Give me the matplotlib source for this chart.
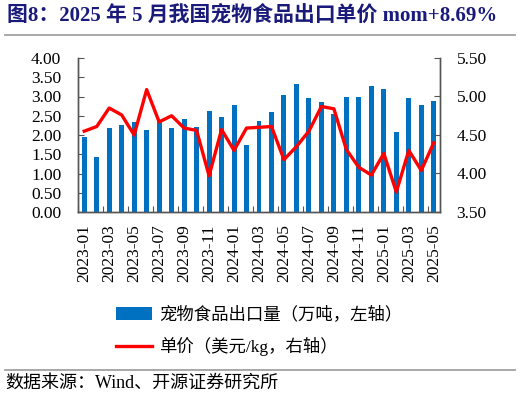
import matplotlib
matplotlib.use("Agg")
import matplotlib.pyplot as plt
import numpy as np

months = ["2023-01","2023-02","2023-03","2023-04","2023-05","2023-06","2023-07","2023-08",
          "2023-09","2023-10","2023-11","2023-12","2024-01","2024-02","2024-03","2024-04",
          "2024-05","2024-06","2024-07","2024-08","2024-09","2024-10","2024-11","2024-12",
          "2025-01","2025-02","2025-03","2025-04","2025-05"]
volume = [1.94, 1.42, 2.19, 2.26, 2.34, 2.12, 2.40, 2.18, 2.42, 2.21, 2.63, 2.48, 2.77, 1.73,
          2.37, 2.61, 3.05, 3.33, 2.96, 2.85, 2.55, 2.99, 3.00, 3.26, 3.19, 2.08, 2.96, 2.77, 2.88]
price = [4.55, 4.61, 4.85, 4.76, 4.50, 5.09, 4.67, 4.75, 4.59, 4.56, 3.97, 4.57, 4.30, 4.59,
         4.60, 4.61, 4.18, 4.35, 4.55, 4.87, 4.84, 4.31, 4.08, 3.98, 4.26, 3.76, 4.30, 4.04, 4.40]
left_ticks = [0.0, 0.5, 1.0, 1.5, 2.0, 2.5, 3.0, 3.5, 4.0]
right_ticks = [3.5, 4.0, 4.5, 5.0, 5.5]

title = "图8：2025 年 5 月我国宠物食品出口单价 mom+8.69%"
bar_label = "宠物食品出口量（万吨，左轴）"
line_label = "单价（美元/kg，右轴）"
source = "数据来源：Wind、开源证券研究所"

fam = ["Liberation Serif", "Noto Sans CJK SC", "DejaVu Sans"]
plt.rcParams["font.family"] = fam

W, H = 520, 396
fig = plt.figure(figsize=(W / 100, H / 100), dpi=100)
ax = fig.add_axes([78 / W, 1 - 212 / H, (440 - 78) / W, (212 - 58) / H])
ax2 = ax.twinx()

x = np.arange(len(months))
bars = ax.bar(x, volume, width=0.4, color="#0070C0", label=bar_label, zorder=2)
ln, = ax2.plot(x, price, color="#FF0000", lw=2.4, label=line_label, zorder=3)

ax.set_xlim(-0.5, len(months) - 0.5)
ax.set_ylim(0, 4)
ax2.set_ylim(3.5, 5.5)
ax.set_yticks(left_ticks)
ax.set_yticklabels([f"{v:.2f}" for v in left_ticks])
ax2.set_yticks(right_ticks)
ax2.set_yticklabels([f"{v:.2f}" for v in right_ticks])

# major ticks at boundaries every 2 months (no labels), labels at bar centers
ax.set_xticks(np.arange(-0.5, len(months), 2))
ax.set_xticklabels([])
ax.set_xticks(x[::2], minor=True)
ax.set_xticklabels(months[::2], minor=True, rotation=90)
ax.tick_params(axis="x", which="major", direction="in", length=4, color="#555555")
ax.tick_params(axis="x", which="minor", length=0, pad=9, labelsize=12.5)
ax.tick_params(axis="y", direction="in", length=4, pad=12, labelsize=12.5, color="#555555")
ax2.tick_params(axis="y", direction="in", length=4, pad=12, labelsize=12.5, color="#555555")

for a in (ax, ax2):
    a.spines["top"].set_visible(False)
    for s in ("left", "right", "bottom"):
        a.spines[s].set_color("#555555")
        a.spines[s].set_linewidth(1.0)

fig.text(7 / W, 1 - 16 / H, title, ha="left", va="center", fontsize=15.0,
         fontweight="bold", color="#1a1a7a", family=fam)
fig.add_artist(plt.Line2D([5 / W, 515 / W], [1 - 35 / H, 1 - 35 / H], color="#999999", lw=1.2))
fig.add_artist(plt.Line2D([5 / W, 515 / W], [1 - 370 / H, 1 - 370 / H], color="#999999", lw=1.2))
fig.text(5 / W, 1 - 383 / H, source, ha="left", va="center", fontsize=13, family=fam)

fig.legend(handles=[bars, ln], loc="upper left", bbox_to_anchor=(100 / W, 1 - 291 / H),
           frameon=False, fontsize=12.5, handlelength=2.1, handleheight=0.7,
           labelspacing=0.8, handletextpad=0.4)

fig.savefig("out.png", dpi=100)
